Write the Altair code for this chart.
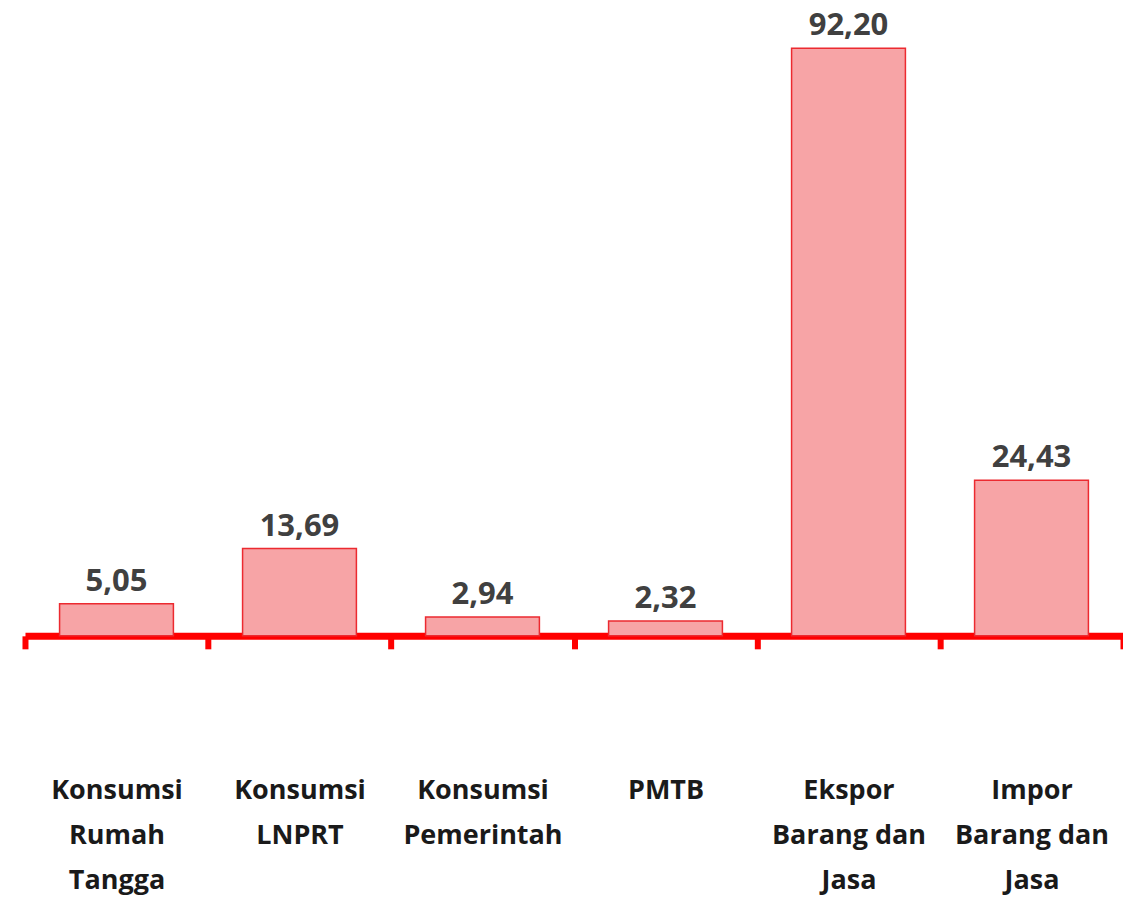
import altair as alt
import pandas as pd

categories = [
    "Konsumsi\nRumah\nTangga",
    "Konsumsi\nLNPRT",
    "Konsumsi\nPemerintah",
    "PMTB",
    "Ekspor\nBarang dan\nJasa",
    "Impor\nBarang dan\nJasa",
]
values = [5.05, 13.69, 2.94, 2.32, 92.20, 24.43]
value_labels = ["5,05", "13,69", "2,94", "2,32", "92,20", "24,43"]

df = pd.DataFrame({"cat": categories, "val": values, "lab": value_labels})

x = alt.X(
    "cat:N",
    sort=categories,
    scale=alt.Scale(paddingInner=0, paddingOuter=0),
    axis=alt.Axis(
        title=None,
        domainColor="#FF0000",
        domainWidth=7,
        tickColor="#FF0000",
        tickWidth=6,
        tickSize=13,
        tickBand="extent",
        labelAngle=0,
        labelExpr="split(datum.label, '\\n')",
        labelFont="Open Sans",
        labelFontWeight="bold",
        labelFontSize=27,
        labelLineHeight=45,
        labelColor="#1a1a1a",
        labelPadding=129,
        labelBaseline="top",
    ),
)
y = alt.Y("val:Q", scale=alt.Scale(domain=[0, 92.2], nice=False), axis=None)

bars = alt.Chart(df).mark_bar(
    color="#F7A4A6", stroke="#EC2A30", strokeWidth=1.5,
    width=alt.RelativeBandSize(0.622)
).encode(x=x, y=y)

text = alt.Chart(df).mark_text(
    font="Open Sans", fontWeight="bold", fontSize=31, color="#404040",
    baseline="alphabetic", dy=-13
).encode(x=alt.X("cat:N", sort=categories), y=y, text="lab:N")

chart = alt.layer(bars, text).properties(
    width=1099, height=588,
    autosize=alt.AutoSizeParams(type="none"),
    padding={"left": 17, "top": 40, "right": 0, "bottom": 260},
).configure_view(stroke=None)

chart.save("out.html", embed_options={"renderer": "svg", "actions": False})
